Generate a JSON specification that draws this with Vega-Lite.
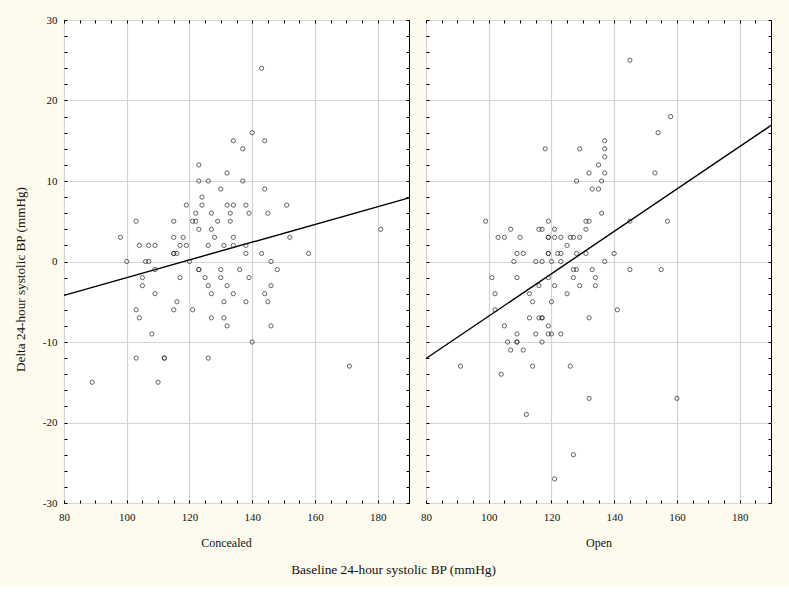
{
  "$schema": "https://vega.github.io/schema/vega-lite/v6.json",
  "background": "#FDFBEE",
  "padding": {"left": 12, "top": 13, "right": 16, "bottom": 10},
  "config": {
    "font": "Liberation Serif",
    "view": {"stroke": "black", "strokeWidth": 1, "fill": "white"},
    "axis": {
      "domain": false,
      "labelFont": "Liberation Serif",
      "titleFont": "Liberation Serif",
      "labelFontSize": 11,
      "titleFontSize": 12,
      "titleFontWeight": "normal",
      "labelColor": "#111",
      "titleColor": "#111",
      "tickColor": "black",
      "tickSize": -3,
      "gridColor": "#d4d4d4",
      "gridWidth": 1.2,
      "labelOverlap": false,
      "labelFlush": false
    }
  },
  "title": {"text": "Baseline 24-hour systolic BP (mmHg)", "orient": "bottom", "anchor": "middle", "frame": "bounds", "fontSize": 13.4, "fontWeight": "normal", "font": "Liberation Serif", "color": "#111", "offset": 14},
  "datasets": {
    "points": [
      {"group":"Concealed","x":143,"y":24},{"group":"Concealed","x":140,"y":16},{"group":"Concealed","x":134,"y":15},{"group":"Concealed","x":144,"y":15},{"group":"Concealed","x":137,"y":14},{"group":"Concealed","x":123,"y":12},{"group":"Concealed","x":132,"y":11},{"group":"Concealed","x":123,"y":10},{"group":"Concealed","x":126,"y":10},{"group":"Concealed","x":137,"y":10},{"group":"Concealed","x":130,"y":9},{"group":"Concealed","x":144,"y":9},{"group":"Concealed","x":124,"y":8},{"group":"Concealed","x":119,"y":7},{"group":"Concealed","x":124,"y":7},{"group":"Concealed","x":132,"y":7},{"group":"Concealed","x":134,"y":7},{"group":"Concealed","x":138,"y":7},{"group":"Concealed","x":151,"y":7},{"group":"Concealed","x":122,"y":6},{"group":"Concealed","x":127,"y":6},{"group":"Concealed","x":133,"y":6},{"group":"Concealed","x":139,"y":6},{"group":"Concealed","x":145,"y":6},{"group":"Concealed","x":103,"y":5},{"group":"Concealed","x":115,"y":5},{"group":"Concealed","x":121,"y":5},{"group":"Concealed","x":122,"y":5},{"group":"Concealed","x":129,"y":5},{"group":"Concealed","x":133,"y":5},{"group":"Concealed","x":123,"y":4},{"group":"Concealed","x":127,"y":4},{"group":"Concealed","x":181,"y":4},{"group":"Concealed","x":98,"y":3},{"group":"Concealed","x":115,"y":3},{"group":"Concealed","x":118,"y":3},{"group":"Concealed","x":128,"y":3},{"group":"Concealed","x":134,"y":3},{"group":"Concealed","x":152,"y":3},{"group":"Concealed","x":104,"y":2},{"group":"Concealed","x":107,"y":2},{"group":"Concealed","x":109,"y":2},{"group":"Concealed","x":117,"y":2},{"group":"Concealed","x":119,"y":2},{"group":"Concealed","x":126,"y":2},{"group":"Concealed","x":131,"y":2},{"group":"Concealed","x":134,"y":2},{"group":"Concealed","x":138,"y":2},{"group":"Concealed","x":115,"y":1},{"group":"Concealed","x":115,"y":1},{"group":"Concealed","x":116,"y":1},{"group":"Concealed","x":138,"y":1},{"group":"Concealed","x":143,"y":1},{"group":"Concealed","x":158,"y":1},{"group":"Concealed","x":100,"y":0},{"group":"Concealed","x":106,"y":0},{"group":"Concealed","x":107,"y":0},{"group":"Concealed","x":120,"y":0},{"group":"Concealed","x":146,"y":0},{"group":"Concealed","x":109,"y":-1},{"group":"Concealed","x":123,"y":-1},{"group":"Concealed","x":123,"y":-1},{"group":"Concealed","x":130,"y":-1},{"group":"Concealed","x":136,"y":-1},{"group":"Concealed","x":148,"y":-1},{"group":"Concealed","x":105,"y":-2},{"group":"Concealed","x":117,"y":-2},{"group":"Concealed","x":125,"y":-2},{"group":"Concealed","x":130,"y":-2},{"group":"Concealed","x":139,"y":-2},{"group":"Concealed","x":105,"y":-3},{"group":"Concealed","x":126,"y":-3},{"group":"Concealed","x":132,"y":-3},{"group":"Concealed","x":146,"y":-3},{"group":"Concealed","x":109,"y":-4},{"group":"Concealed","x":127,"y":-4},{"group":"Concealed","x":134,"y":-4},{"group":"Concealed","x":144,"y":-4},{"group":"Concealed","x":116,"y":-5},{"group":"Concealed","x":131,"y":-5},{"group":"Concealed","x":138,"y":-5},{"group":"Concealed","x":145,"y":-5},{"group":"Concealed","x":103,"y":-6},{"group":"Concealed","x":115,"y":-6},{"group":"Concealed","x":121,"y":-6},{"group":"Concealed","x":104,"y":-7},{"group":"Concealed","x":127,"y":-7},{"group":"Concealed","x":131,"y":-7},{"group":"Concealed","x":132,"y":-8},{"group":"Concealed","x":146,"y":-8},{"group":"Concealed","x":108,"y":-9},{"group":"Concealed","x":140,"y":-10},{"group":"Concealed","x":103,"y":-12},{"group":"Concealed","x":112,"y":-12},{"group":"Concealed","x":112,"y":-12},{"group":"Concealed","x":126,"y":-12},{"group":"Concealed","x":171,"y":-13},{"group":"Concealed","x":89,"y":-15},{"group":"Concealed","x":110,"y":-15},
      {"group":"Open","x":145,"y":25},{"group":"Open","x":158,"y":18},{"group":"Open","x":154,"y":16},{"group":"Open","x":137,"y":15},{"group":"Open","x":118,"y":14},{"group":"Open","x":129,"y":14},{"group":"Open","x":137,"y":14},{"group":"Open","x":137,"y":13},{"group":"Open","x":135,"y":12},{"group":"Open","x":132,"y":11},{"group":"Open","x":137,"y":11},{"group":"Open","x":153,"y":11},{"group":"Open","x":128,"y":10},{"group":"Open","x":136,"y":10},{"group":"Open","x":133,"y":9},{"group":"Open","x":135,"y":9},{"group":"Open","x":136,"y":6},{"group":"Open","x":99,"y":5},{"group":"Open","x":119,"y":5},{"group":"Open","x":131,"y":5},{"group":"Open","x":132,"y":5},{"group":"Open","x":145,"y":5},{"group":"Open","x":157,"y":5},{"group":"Open","x":107,"y":4},{"group":"Open","x":116,"y":4},{"group":"Open","x":117,"y":4},{"group":"Open","x":121,"y":4},{"group":"Open","x":131,"y":4},{"group":"Open","x":103,"y":3},{"group":"Open","x":105,"y":3},{"group":"Open","x":110,"y":3},{"group":"Open","x":119,"y":3},{"group":"Open","x":119,"y":3},{"group":"Open","x":121,"y":3},{"group":"Open","x":123,"y":3},{"group":"Open","x":126,"y":3},{"group":"Open","x":127,"y":3},{"group":"Open","x":129,"y":3},{"group":"Open","x":125,"y":2},{"group":"Open","x":109,"y":1},{"group":"Open","x":111,"y":1},{"group":"Open","x":119,"y":1},{"group":"Open","x":119,"y":1},{"group":"Open","x":122,"y":1},{"group":"Open","x":123,"y":1},{"group":"Open","x":128,"y":1},{"group":"Open","x":131,"y":1},{"group":"Open","x":140,"y":1},{"group":"Open","x":108,"y":0},{"group":"Open","x":115,"y":0},{"group":"Open","x":117,"y":0},{"group":"Open","x":120,"y":0},{"group":"Open","x":123,"y":0},{"group":"Open","x":137,"y":0},{"group":"Open","x":127,"y":-1},{"group":"Open","x":128,"y":-1},{"group":"Open","x":133,"y":-1},{"group":"Open","x":145,"y":-1},{"group":"Open","x":155,"y":-1},{"group":"Open","x":101,"y":-2},{"group":"Open","x":109,"y":-2},{"group":"Open","x":119,"y":-2},{"group":"Open","x":127,"y":-2},{"group":"Open","x":134,"y":-2},{"group":"Open","x":116,"y":-3},{"group":"Open","x":121,"y":-3},{"group":"Open","x":129,"y":-3},{"group":"Open","x":134,"y":-3},{"group":"Open","x":102,"y":-4},{"group":"Open","x":113,"y":-4},{"group":"Open","x":125,"y":-4},{"group":"Open","x":114,"y":-5},{"group":"Open","x":120,"y":-5},{"group":"Open","x":102,"y":-6},{"group":"Open","x":141,"y":-6},{"group":"Open","x":113,"y":-7},{"group":"Open","x":116,"y":-7},{"group":"Open","x":117,"y":-7},{"group":"Open","x":117,"y":-7},{"group":"Open","x":132,"y":-7},{"group":"Open","x":105,"y":-8},{"group":"Open","x":119,"y":-8},{"group":"Open","x":109,"y":-9},{"group":"Open","x":115,"y":-9},{"group":"Open","x":119,"y":-9},{"group":"Open","x":120,"y":-9},{"group":"Open","x":123,"y":-9},{"group":"Open","x":106,"y":-10},{"group":"Open","x":109,"y":-10},{"group":"Open","x":109,"y":-10},{"group":"Open","x":117,"y":-10},{"group":"Open","x":107,"y":-11},{"group":"Open","x":111,"y":-11},{"group":"Open","x":91,"y":-13},{"group":"Open","x":114,"y":-13},{"group":"Open","x":126,"y":-13},{"group":"Open","x":104,"y":-14},{"group":"Open","x":132,"y":-17},{"group":"Open","x":160,"y":-17},{"group":"Open","x":112,"y":-19},{"group":"Open","x":127,"y":-24},{"group":"Open","x":121,"y":-27}
    ],
    "fits": [
      {"group":"Concealed","x":80,"y":-4.2},{"group":"Concealed","x":190,"y":7.9},
      {"group":"Open","x":80,"y":-12.05},{"group":"Open","x":190,"y":16.9}
    ]
  },
  "spacing": 7,
  "hconcat": [
    {
      "width": 345,
      "height": 483,
      "resolve": {"axis": {"x": "independent", "y": "independent"}},
      "layer": [
        {
          "data": {"name": "fits"},
          "transform": [{"filter": "datum.group === 'Concealed'"}],
          "mark": {"type": "line", "color": "black", "strokeWidth": 1.4},
          "encoding": {
            "x": {"field": "x", "type": "quantitative", "scale": {"domain": [80, 190], "nice": false, "zero": false},
              "axis": {"title": "Concealed", "titleX": 162, "titlePadding": 15, "labelPadding": 11,
                "values": [80,85,90,95,100,105,110,115,120,125,130,135,140,145,150,155,160,165,170,175,180,185,190],
                "labelExpr": "datum.value % 20 === 0 && datum.value < 190 ? datum.label : ''",
                "gridOpacity": {"condition": {"test": "datum.value % 20 === 0", "value": 1}, "value": 0}}},
            "y": {"field": "y", "type": "quantitative", "scale": {"domain": [-30, 30], "nice": false, "zero": false},
              "axis": {"title": "Delta 24-hour systolic BP (mmHg)", "titleFontSize": 13.2, "titleY": 259, "titlePadding": 15, "labelPadding": 10,
                "values": [-30,-28,-26,-24,-22,-20,-18,-16,-14,-12,-10,-8,-6,-4,-2,0,2,4,6,8,10,12,14,16,18,20,22,24,26,28,30],
                "labelExpr": "datum.value % 10 === 0 ? '' + datum.value : ''",
                "gridOpacity": {"condition": {"test": "datum.value % 10 === 0", "value": 1}, "value": 0}}}
          }
        },
        {
          "data": {"name": "points"},
          "transform": [{"filter": "datum.group === 'Concealed'"}],
          "mark": {"type": "point", "shape": "circle", "filled": false, "size": 18, "stroke": "#222", "strokeWidth": 1},
          "encoding": {
            "x": {"field": "x", "type": "quantitative",
              "axis": {"orient": "top", "title": null, "labels": false, "grid": false,
                "values": [80,85,90,95,100,105,110,115,120,125,130,135,140,145,150,155,160,165,170,175,180,185,190]}},
            "y": {"field": "y", "type": "quantitative",
              "axis": {"orient": "right", "title": null, "labels": false, "grid": false,
                "values": [-30,-28,-26,-24,-22,-20,-18,-16,-14,-12,-10,-8,-6,-4,-2,0,2,4,6,8,10,12,14,16,18,20,22,24,26,28,30]}}
          }
        }
      ]
    },
    {
      "width": 345,
      "height": 483,
      "resolve": {"axis": {"x": "independent", "y": "independent"}},
      "layer": [
        {
          "data": {"name": "fits"},
          "transform": [{"filter": "datum.group === 'Open'"}],
          "mark": {"type": "line", "color": "black", "strokeWidth": 1.4},
          "encoding": {
            "x": {"field": "x", "type": "quantitative", "scale": {"domain": [80, 190], "nice": false, "zero": false},
              "axis": {"title": "Open", "titlePadding": 15, "labelPadding": 11,
                "values": [80,85,90,95,100,105,110,115,120,125,130,135,140,145,150,155,160,165,170,175,180,185,190],
                "labelExpr": "datum.value % 20 === 0 && datum.value < 190 ? datum.label : ''",
                "gridOpacity": {"condition": {"test": "datum.value % 20 === 0", "value": 1}, "value": 0}}},
            "y": {"field": "y", "type": "quantitative", "scale": {"domain": [-30, 30], "nice": false, "zero": false},
              "axis": {"title": null, "labels": false,
                "values": [-30,-28,-26,-24,-22,-20,-18,-16,-14,-12,-10,-8,-6,-4,-2,0,2,4,6,8,10,12,14,16,18,20,22,24,26,28,30],
                "gridOpacity": {"condition": {"test": "datum.value % 10 === 0", "value": 1}, "value": 0}}}
          }
        },
        {
          "data": {"name": "points"},
          "transform": [{"filter": "datum.group === 'Open'"}],
          "mark": {"type": "point", "shape": "circle", "filled": false, "size": 18, "stroke": "#222", "strokeWidth": 1},
          "encoding": {
            "x": {"field": "x", "type": "quantitative",
              "axis": {"orient": "top", "title": null, "labels": false, "grid": false,
                "values": [80,85,90,95,100,105,110,115,120,125,130,135,140,145,150,155,160,165,170,175,180,185,190]}},
            "y": {"field": "y", "type": "quantitative",
              "axis": {"orient": "right", "title": null, "labels": false, "grid": false,
                "values": [-30,-28,-26,-24,-22,-20,-18,-16,-14,-12,-10,-8,-6,-4,-2,0,2,4,6,8,10,12,14,16,18,20,22,24,26,28,30]}}
          }
        }
      ]
    }
  ]
}
